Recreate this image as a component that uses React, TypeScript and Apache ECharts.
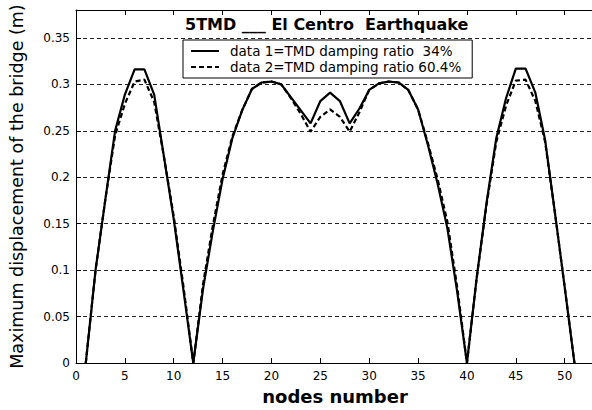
import React, { useEffect, useRef } from "react";
import * as echarts from "echarts";

const NODES = [
  1, 2, 3, 4, 5, 6, 7, 8, 9, 10, 11, 12, 13, 14, 15, 16, 17, 18, 19, 20, 21, 22, 23, 24, 25, 26,
  27, 28, 29, 30, 31, 32, 33, 34, 35, 36, 37, 38, 39, 40, 41, 42, 43, 44, 45, 46, 47, 48, 49, 50, 51,
];

const RATIO_34 = [
  0, 0.1, 0.176, 0.25, 0.289, 0.316, 0.316, 0.289, 0.222, 0.155, 0.078, 0,
  0.08, 0.142, 0.198, 0.242, 0.272, 0.295, 0.302, 0.303, 0.3, 0.286, 0.272, 0.258,
  0.282, 0.291, 0.282, 0.258, 0.274, 0.294, 0.301, 0.303, 0.302, 0.294, 0.273, 0.235,
  0.193, 0.145, 0.077, 0,
  0.092, 0.172, 0.242, 0.285, 0.317, 0.317, 0.291, 0.24, 0.162, 0.082, 0,
];

const RATIO_604 = [
  0, 0.1, 0.176, 0.245, 0.279, 0.303, 0.305, 0.281, 0.222, 0.158, 0.082, 0,
  0.085, 0.148, 0.203, 0.244, 0.272, 0.295, 0.302, 0.303, 0.3, 0.285, 0.268, 0.249,
  0.265, 0.273, 0.265, 0.249, 0.27, 0.294, 0.301, 0.303, 0.302, 0.294, 0.273, 0.237,
  0.198, 0.152, 0.082, 0,
  0.092, 0.17, 0.238, 0.277, 0.304, 0.305, 0.282, 0.238, 0.162, 0.082, 0,
];

const X_TICK_LABELS = ["0", "5", "10", "15", "20", "25", "30", "35", "40", "45", "50"];
const Y_TICK_LABELS = ["0", "0.05", "0.1", "0.15", "0.2", "0.25", "0.3", "0.35"];

const TITLE = "5TMD ___ El Centro  Earthquake";
const NAME_1 = "data 1=TMD damping ratio \u00a034%";
const NAME_2 = "data 2=TMD damping ratio 60.4%";
const X_NAME = "nodes number";
const Y_NAME = "Maximum displacement of the bridge (m)";

const fmt = (labels: string[]) => (v: number) => {
  const s = String(Math.round(v * 1000) / 1000);
  return labels.includes(s) ? s : "";
};

export default function App() {
  const ref = useRef<HTMLDivElement>(null);
  useEffect(() => {
    document.body.style.margin = "0";
    document.body.style.overflow = "hidden";
    document.documentElement.style.overflow = "hidden";
    if (!ref.current) return;
    const chart = echarts.init(ref.current, undefined, { renderer: "svg" });
    const tickFont = { fontFamily: "DejaVu Sans", fontSize: 12, color: "#000" };
    const axisLine = { show: true, lineStyle: { color: "#000", width: 1 } };
    const axisTick = { show: true, inside: true, length: 5, lineStyle: { color: "#000", width: 1 } };
    chart.setOption({
      animation: false,
      backgroundColor: "#fff",
      title: {
        text: TITLE,
        left: 185,
        top: 16,
        padding: 0,
        textStyle: { fontFamily: "DejaVu Sans", fontWeight: "bold", fontSize: 16, color: "#000" },
      },
      legend: {
        orient: "vertical",
        left: 183,
        top: 40,
        itemWidth: 28,
        itemHeight: 12,
        itemGap: 2,
        padding: [4, 11, 4, 7],
        borderColor: "#000",
        borderWidth: 1,
        backgroundColor: "#fff",
        itemStyle: { opacity: 0 },
        textStyle: { fontFamily: "DejaVu Sans", fontSize: 13.5, color: "#000", padding: [0, 0, 0, 6] },
        data: [NAME_1, NAME_2],
      },
      grid: { left: 76, right: 6, top: 10, bottom: 44 },
      xAxis: [
        {
          type: "value",
          position: "bottom",
          min: 0,
          max: 53,
          interval: 5,
          axisLine,
          axisTick,
          axisLabel: { ...tickFont, margin: 7, showMaxLabel: false, formatter: fmt(X_TICK_LABELS) },
          splitLine: { show: false },
          name: X_NAME,
          nameLocation: "middle",
          nameGap: 22,
          nameTextStyle: { fontFamily: "DejaVu Sans", fontWeight: "bold", fontSize: 18, color: "#000" },
        },
        {
          type: "value",
          position: "top",
          min: 0,
          max: 53,
          interval: 5,
          axisLine,
          axisTick,
          axisLabel: { show: false },
          splitLine: { show: false },
        },
      ],
      yAxis: {
        type: "value",
        min: 0,
        max: 0.38,
        interval: 0.05,
        axisLine,
        axisTick,
        axisLabel: { ...tickFont, margin: 6, showMaxLabel: false, formatter: fmt(Y_TICK_LABELS) },
        splitLine: {
          show: true,
          showMinLine: false,
          showMaxLine: false,
          lineStyle: { color: "#222", width: 1, type: [4, 3] },
        },
        name: Y_NAME,
        nameLocation: "middle",
        nameGap: 50,
        nameTextStyle: { fontFamily: "DejaVu Sans", fontSize: 17.5, color: "#000" },
      },
      series: [
        {
          name: NAME_1,
          type: "line",
          xAxisIndex: 0,
          data: NODES.map((n, i) => [n, RATIO_34[i]]),
          symbol: "none",
          lineStyle: { color: "#000", width: 2.2 },
          itemStyle: { color: "#000" },
          z: 3,
        },
        {
          name: NAME_2,
          type: "line",
          xAxisIndex: 0,
          data: NODES.map((n, i) => [n, RATIO_604[i]]),
          symbol: "none",
          lineStyle: { color: "#000", width: 2.2, type: [5, 3] },
          itemStyle: { color: "#000" },
          z: 2,
        },
      ],
    });
    return () => chart.dispose();
  }, []);
  return (
    <div
      ref={ref}
      style={{ position: "absolute", left: 0, top: 0, width: 600, height: 410 }}
    />
  );
}
